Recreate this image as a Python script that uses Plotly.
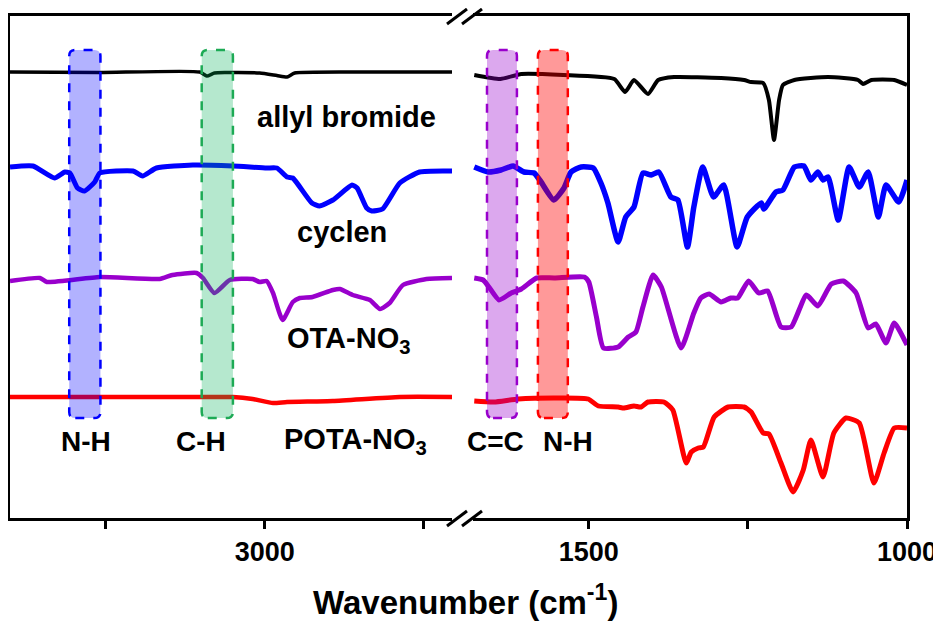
import plotly.graph_objects as go

# ---------------- data (wavenumber in cm-1, transmittance a.u. with offsets) -------------
allyl_left_wn = [3400, 3259, 3102, 3091, 3079, 3063, 3008, 2981, 2965, 2953, 2866, 2706]
allyl_left_t = [446, 445.5, 446, 442, 445, 445.5, 445, 442.5, 441, 445, 446, 446]
allyl_right_wn = [1680, 1639, 1606, 1540, 1460, 1443, 1429, 1407, 1391, 1366, 1292, 1256, 1245,
                  1226, 1217, 1209, 1201, 1195, 1177, 1124, 1077, 1069, 1056, 1020, 1000]
allyl_right_t = [443, 439, 444, 443, 439, 426, 438, 424, 438, 441, 440, 438, 436,
                 435, 418, 378, 418, 433, 438, 441, 438, 434, 438, 438, 433]

cyclen_left_wn = [3400, 3364, 3330, 3314, 3306, 3294, 3283, 3267, 3259, 3207, 3192, 3170, 3113,
                  3050, 2997, 2981, 2965, 2956, 2926, 2914, 2893, 2863, 2855, 2840, 2832, 2815,
                  2788, 2757, 2706]
cyclen_left_t = [351, 352, 340, 346, 345, 330, 327, 336, 345, 347, 342, 350, 353,
                 352, 350, 350, 341, 340, 315, 312, 318, 333, 330, 310, 307, 309,
                 335, 346, 347]
cyclen_right_wn = [1680, 1658, 1638, 1619, 1602, 1586, 1575, 1555, 1539, 1528, 1512, 1493, 1481,
                   1470, 1454, 1442, 1429, 1415, 1402, 1390, 1371, 1360, 1345, 1335, 1321, 1304,
                   1288, 1267, 1251, 1229, 1225, 1206, 1195, 1177, 1162, 1151, 1140, 1132, 1124,
                   1108, 1091, 1075, 1061, 1045, 1033, 1013, 1000]
cyclen_right_t = [351, 346, 348, 352, 346, 345, 336, 318, 330, 346, 351, 350, 335,
                  315, 276, 301, 311, 345, 343, 346, 321, 318, 271, 311, 351, 321,
                  333, 271, 301, 315, 309, 326, 328, 351, 352, 338, 346, 338, 341,
                  298, 351, 331, 346, 301, 333, 316, 338]

ota_left_wn = [3400, 3353, 3342, 3259, 3165, 3145, 3107, 3097, 3079, 3055, 3019, 3008, 2997,
               2987, 2972, 2956, 2945, 2925, 2893, 2882, 2862, 2835, 2819, 2804, 2783, 2746, 2706]
ota_left_t = [237, 240, 236, 241, 239, 243, 245, 240, 225, 238, 239, 236, 237,
              225, 198, 216, 220, 221, 228, 229, 223, 218, 209, 215, 233, 239, 240]
ota_right_wn = [1680, 1666, 1657, 1641, 1622, 1606, 1582, 1554, 1507, 1500, 1488, 1477, 1454,
                1438, 1426, 1415, 1399, 1386, 1355, 1335, 1324, 1311, 1292, 1277, 1266, 1249,
                1233, 1219, 1198, 1182, 1158, 1140, 1119, 1100, 1080, 1061, 1049, 1033, 1020, 1000]
ota_right_t = [240, 238, 231, 218, 225, 229, 240, 240, 241, 236, 201, 170, 171,
               181, 186, 211, 243, 231, 170, 205, 220, 224, 216, 220, 220, 237,
               225, 227, 191, 191, 223, 212, 234, 237, 225, 190, 194, 175, 195, 173]

pota_left_wn = [3400, 3102, 3050, 3019, 2987, 2965, 2893, 2788, 2706]
pota_left_t = [121, 121, 121, 119, 115, 116, 117, 121, 121]
pota_right_wn = [1680, 1649, 1611, 1543, 1501, 1485, 1454, 1445, 1429, 1418, 1407, 1382, 1368,
                 1347, 1339, 1328, 1320, 1303, 1281, 1256, 1245, 1226, 1217, 1198, 1179, 1163,
                 1151, 1132, 1115, 1096, 1075, 1052, 1036, 1020, 1000]
pota_right_t = [117, 116, 119, 120, 119, 112, 111, 110, 112, 111, 116, 116, 108,
                55, 66, 70, 71, 101, 111, 111, 106, 85, 84, 55, 26, 48,
                78, 41, 85, 100, 95, 35, 65, 90, 90]

# highlighted bands: (high wn, low wn) and their labels
band_ranges = [(3307, 3258), (3099, 3050), (1660, 1613), (1580, 1533)]
band_labels = ["N-H", "C-H", "C=C", "N-H"]
band_label_wn = [3280, 3100, 1647, 1532]

sample_names = ["allyl bromide", "cyclen", "OTA-NO<sub>3</sub>", "POTA-NO<sub>3</sub>"]
sample_label_pos = [(2871, 401), (2879, 286), (2868, 178), (2857, 77)]

left_ticks = [3250, 3000, 2750]
left_ticktext = ["", "3000", ""]
right_ticks = [1500, 1250, 1000]
right_ticktext = ["1500", "", "1000"]

# ---------------- styling ----------------
FONT = "Liberation Sans, Arial, sans-serif"
OFF = 8                      # default page body margin
W, H = 941 - OFF, 621 - OFF
L, R, T, B = 10 - OFF, 34, 16 - OFF, 103
PW, PH = W - L - R, H - T - B

def px_x(px):
    return (px - OFF - L) / PW

def px_y(py):
    return (OFF + T + PH - py) / PH

series = [
    (allyl_left_wn, allyl_left_t, allyl_right_wn, allyl_right_t, "#000000", 3.5),
    (cyclen_left_wn, cyclen_left_t, cyclen_right_wn, cyclen_right_t, "#0000FF", 5),
    (ota_left_wn, ota_left_t, ota_right_wn, ota_right_t, "#9900CC", 4.5),
    (pota_left_wn, pota_left_t, pota_right_wn, pota_right_t, "#FF0000", 4.5),
]

fig = go.Figure()
for lw, lt, rw, rt, col, width in series:
    fig.add_trace(go.Scatter(x=lw, y=lt, mode="lines", xaxis="x", yaxis="y",
                             line=dict(color=col, width=width, shape="spline", smoothing=0.5),
                             showlegend=False, hoverinfo="skip"))
    fig.add_trace(go.Scatter(x=rw, y=rt, mode="lines", xaxis="x2", yaxis="y2",
                             line=dict(color=col, width=width + 0.5, shape="spline", smoothing=0.5),
                             showlegend=False, hoverinfo="skip"))

band_styles = [
    ("x", "y", "rgba(0,0,255,0.30)", "#0000FF"),
    ("x", "y", "rgba(0,175,87,0.29)", "#1DAA55"),
    ("x2", "y2", "rgba(153,0,204,0.34)", "#9900CC"),
    ("x2", "y2", "rgba(255,0,0,0.40)", "#FF0000"),
]
y_top, y_bot = 468, 100
rx, ry = 9.5, 6
shapes = []
for (hi, lo), (xr, yr, fill, edge) in zip(band_ranges, band_styles):
    path = (f"M {hi - rx},{y_bot} L {lo + rx},{y_bot} Q {lo},{y_bot} {lo},{y_bot + ry} "
            f"L {lo},{y_top - ry} Q {lo},{y_top} {lo + rx},{y_top} "
            f"L {hi - rx},{y_top} Q {hi},{y_top} {hi},{y_top - ry} "
            f"L {hi},{y_bot + ry} Q {hi},{y_bot} {hi - rx},{y_bot} Z")
    shapes.append(dict(type="path", path=path, xref=xr, yref=yr, fillcolor=fill,
                       line=dict(color=edge, width=2.5, dash="dash"), layer="above"))

# axis break marks
for py in (16, 518):
    for x0 in (447, 462):
        shapes.append(dict(type="line", xref="paper", yref="paper",
                           x0=px_x(x0), y0=px_y(py + 8), x1=px_x(x0 + 20), y1=px_y(py - 7),
                           line=dict(color="black", width=3)))

annotations = []
for name, (wn, yv) in zip(sample_names, sample_label_pos):
    annotations.append(dict(x=wn, y=yv, xref="x", yref="y", text=name, showarrow=False,
                            xanchor="center", yanchor="middle",
                            font=dict(family=FONT, size=29, color="black", weight="bold")))
for i, (lab, wn) in enumerate(zip(band_labels, band_label_wn)):
    xr, yr = ("x", "y") if i < 2 else ("x2", "y2")
    annotations.append(dict(x=wn, y=77, xref=xr, yref=yr, text=lab, showarrow=False,
                            xanchor="center", yanchor="middle",
                            font=dict(family=FONT, size=28, color="black", weight="bold")))
annotations.append(dict(x=px_x(465), y=px_y(600), xref="paper", yref="paper",
                        xanchor="center", yanchor="middle",
                        text="Wavenumber (cm<sup>-1</sup>)", showarrow=False,
                        font=dict(family=FONT, size=33, color="black", weight="bold")))

axis_common = dict(showgrid=False, zeroline=False, showline=True, linecolor="black", linewidth=3,
                   ticks="outside", ticklen=8, tickwidth=3, tickcolor="black", automargin=False,
                   tickfont=dict(family=FONT, size=27, color="black", weight="bold"))

fig.update_layout(
    width=W, height=H, margin=dict(l=L, r=R, t=T, b=B, autoexpand=False),
    paper_bgcolor="white", plot_bgcolor="white",
    xaxis=dict(domain=[0, px_x(452)], range=[3400, 2706], tickmode="array",
               tickvals=left_ticks, ticktext=left_ticktext, mirror=True, anchor="y", **axis_common),
    xaxis2=dict(domain=[px_x(473), 1], range=[1682, 1000], tickmode="array",
                tickvals=right_ticks, ticktext=right_ticktext, mirror=True, anchor="y2", **axis_common),
    yaxis=dict(range=[0, PH], showgrid=False, zeroline=False, showline=True, linecolor="black",
               linewidth=3, ticks="", showticklabels=False, anchor="x", automargin=False),
    yaxis2=dict(range=[0, PH], showgrid=False, zeroline=False, showline=True, linecolor="black",
                linewidth=3, ticks="", showticklabels=False, anchor="x2", side="right",
                automargin=False),
    shapes=shapes, annotations=annotations,
)

fig.write_html("out.html")
